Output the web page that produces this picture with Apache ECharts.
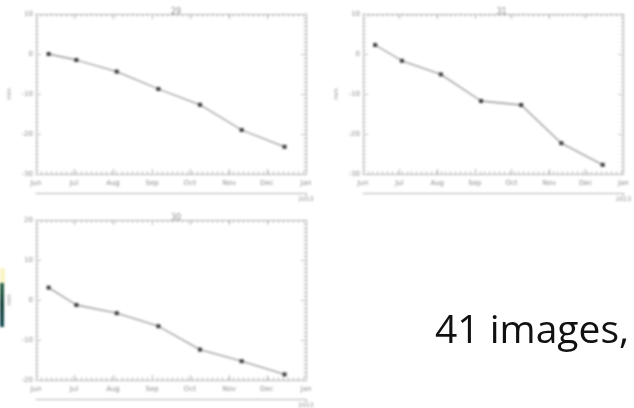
<!DOCTYPE html>
<html>
<head>
<meta charset="utf-8">
<script src="https://cdn.jsdelivr.net/npm/echarts@6/dist/echarts.min.js"></script>
<style>
  html, body { margin: 0; padding: 0; background: #fff; }
  #wrap { position: relative; width: 634px; height: 408px; overflow: hidden; }
  #plots { position: absolute; left: 0; top: 0; width: 634px; height: 408px; filter: blur(0.9px); }
  #caption { position: absolute; left: 0; top: 0; width: 634px; height: 408px; }
</style>
</head>
<body>
<div id="wrap">
  <div id="plots"></div>
  <div id="caption"></div>
</div>
<script>
// Survey dates (one campaign per month, 2012)
const surveyDates = ['2012-06-11', '2012-07-03', '2012-08-04', '2012-09-06', '2012-10-09', '2012-11-11', '2012-12-15'];
// Cumulative displacement (mm) per station
const station29 = [0, -1.5, -4.4, -8.75, -12.7, -19.0, -23.2];
const station31 = [2.25, -1.7, -5.1, -11.75, -12.75, -22.3, -27.7];
const station30 = [3.1, -1.25, -3.3, -6.55, -12.4, -15.3, -18.6];
const stationNames = ['29', '31', '30'];
const monthLabels = ['Jun', 'Jul', 'Aug', 'Sep', 'Oct', 'Nov', 'Dec', 'Jan'];
const yearLabel = '2013';
const yRanges = [[-30, 10], [-30, 10], [-20, 20]];
const yUnit = 'mm';
const captionText = '41 images,';

// x is measured in days since 1 June 2012
const DAY = 86400000;
const tStart = Date.UTC(2012, 5, 1);
function dayOf(s) {
  const p = s.split('-').map(Number);
  return Math.round((Date.UTC(p[0], p[1] - 1, p[2]) - tStart) / DAY);
}
const monthTicks = monthLabels.map((_, i) => Math.round((Date.UTC(2012, 5 + i, 1) - tStart) / DAY));
const spanDays = monthTicks[monthTicks.length - 1];

const axisGrey = '#b4b4b4';
const labelGrey = '#8c8c8c';
const edge = { show: true, onZero: false, lineStyle: { color: axisGrey, width: 1 } };

const layout = [
  { left: 36, top: 14, width: 270, height: 160 },
  { left: 363, top: 14, width: 267, height: 160 },
  { left: 36, top: 220, width: 270, height: 160 }
];

const grids = [], xAxes = [], yAxes = [], series = [], titles = [];
const values = [station29, station31, station30];

layout.forEach((g, i) => {
  grids.push(Object.assign({ containLabel: false }, g));
  titles.push({
    text: stationNames[i], left: g.left + g.width / 2, top: g.top - 11, textAlign: 'center',
    textStyle: { fontSize: 8, fontWeight: 'normal', color: labelGrey, fontFamily: 'DejaVu Sans' }
  });
  const base = xAxes.length;
  // bottom month axis
  xAxes.push({
    type: 'value', gridIndex: i, min: 0, max: spanDays, position: 'bottom',
    axisLine: edge,
    axisTick: { show: true, inside: true, length: 5, customValues: monthTicks, lineStyle: { color: axisGrey } },
    axisLabel: {
      show: true, customValues: monthTicks, fontSize: 7, color: labelGrey, margin: 6,
      fontFamily: 'DejaVu Sans', formatter: v => monthLabels[monthTicks.indexOf(v)] || ''
    },
    splitLine: { show: false }
  });
  // top mirror axis
  xAxes.push({
    type: 'value', gridIndex: i, min: 0, max: spanDays, position: 'top',
    axisLine: edge,
    axisTick: { show: true, inside: true, length: 5, customValues: monthTicks, lineStyle: { color: axisGrey } },
    axisLabel: { show: false }, splitLine: { show: false }
  });
  // fine day ticks along bottom and top
  ['bottom', 'top'].forEach(pos => {
    xAxes.push({
      type: 'value', gridIndex: i, min: 0, max: spanDays, interval: 4, position: pos,
      axisLine: { show: false, onZero: false },
      axisTick: { show: true, inside: true, length: 2.5, lineStyle: { color: axisGrey } },
      axisLabel: { show: false }, splitLine: { show: false }
    });
  });
  // year axis below
  xAxes.push({
    type: 'value', gridIndex: i, min: 0, max: spanDays, position: 'bottom', offset: 19,
    axisLine: edge,
    axisTick: { show: true, inside: false, length: 3, customValues: [spanDays], lineStyle: { color: axisGrey } },
    axisLabel: { show: true, customValues: [spanDays], fontSize: 6, color: labelGrey, margin: 3, fontFamily: 'DejaVu Sans', formatter: () => yearLabel },
    splitLine: { show: false }
  });
  const yb = yAxes.length;
  yAxes.push({
    type: 'value', gridIndex: i, min: yRanges[i][0], max: yRanges[i][1], interval: 10, position: 'left',
    name: yUnit, nameLocation: 'middle', nameGap: 24, nameRotate: 90,
    nameTextStyle: { fontSize: 6, color: labelGrey, fontFamily: 'DejaVu Sans' },
    axisLine: edge,
    axisTick: { show: true, inside: true, length: 5, lineStyle: { color: axisGrey } },
    minorTick: { show: true, splitNumber: 10, length: 2.5, lineStyle: { color: axisGrey } },
    axisLabel: { fontSize: 7, color: labelGrey, margin: 3, fontFamily: 'DejaVu Sans' },
    splitLine: { show: false }
  });
  yAxes.push({
    type: 'value', gridIndex: i, min: yRanges[i][0], max: yRanges[i][1], interval: 10, position: 'right',
    axisLine: edge,
    axisTick: { show: true, inside: true, length: 5, lineStyle: { color: axisGrey } },
    minorTick: { show: true, splitNumber: 10, length: 2.5, lineStyle: { color: axisGrey } },
    axisLabel: { show: false }, splitLine: { show: false }
  });
  series.push({
    type: 'line', xAxisIndex: base, yAxisIndex: yb,
    data: surveyDates.map((d, k) => [dayOf(d), values[i][k]]),
    symbol: 'rect', symbolSize: 4, showSymbol: true,
    lineStyle: { color: '#999999', width: 1.3 },
    itemStyle: { color: '#3c3c3c' },
    animation: false
  });
});

const plots = echarts.init(document.getElementById('plots'), null, { renderer: 'canvas' });
plots.setOption({
  backgroundColor: 'transparent',
  animation: false,
  title: titles,
  grid: grids,
  xAxis: xAxes,
  yAxis: yAxes,
  series: series,
  graphic: [
    // edge of a neighbouring picture on the slide
    { type: 'rect', shape: { x: 0, y: 268, width: 5, height: 16 }, style: { fill: 'rgba(246,240,170,0.7)' } },
    { type: 'rect', shape: { x: 0, y: 283, width: 4, height: 44 },
      style: { fill: new echarts.graphic.LinearGradient(0, 0, 0, 1, [
        { offset: 0, color: '#2d6a4a' }, { offset: 0.5, color: '#123f38' }, { offset: 1, color: '#1d4f5a' }]) } }
  ]
});

const caption = echarts.init(document.getElementById('caption'), null, { renderer: 'canvas' });
caption.setOption({
  backgroundColor: 'transparent',
  graphic: [{
    type: 'text', left: 435, top: 312,
    style: { text: captionText, font: '39px "Open Sans"', fill: '#111' }
  }]
});
</script>
</body>
</html>
